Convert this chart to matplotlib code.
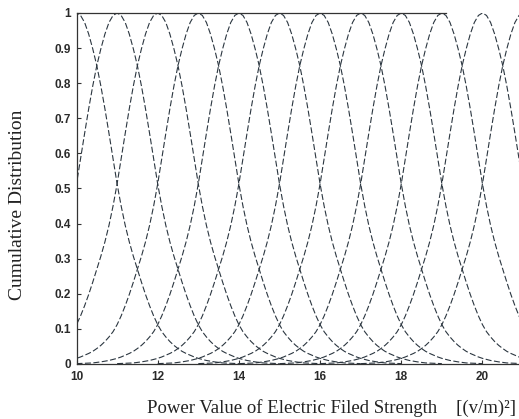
import numpy as np
import matplotlib
matplotlib.use("Agg")
import matplotlib.pyplot as plt

# Peak positions of the curves (x in (v/m)^2)
centers = [10, 11, 12, 13, 14, 15, 16, 17, 18, 19, 20, 21]

# Shape of one curve: distance from peak -> value
offsets = [0.0, 0.1, 0.2, 0.3, 0.4, 0.5, 0.6, 0.7, 0.8, 0.9,
           1.0, 1.1, 1.2, 1.3, 1.4, 1.5, 1.6, 1.7, 1.8, 1.9,
           2.0, 2.1, 2.2, 2.3, 2.4, 2.5, 2.6, 2.7, 2.8, 2.9,
           3.0, 3.2, 3.4, 3.6, 4.0]
profile = [1.000, 0.993, 0.973, 0.940, 0.898, 0.850, 0.792, 0.727, 0.657, 0.585,
           0.513, 0.450, 0.395, 0.348, 0.307, 0.270, 0.233, 0.198, 0.166, 0.137,
           0.112, 0.092, 0.077, 0.064, 0.053, 0.044, 0.036, 0.030, 0.025, 0.020,
           0.016, 0.010, 0.006, 0.003, 0.001]

xticks = [10, 12, 14, 16, 18, 20]
yticks = [0, 0.1, 0.2, 0.3, 0.4, 0.5, 0.6, 0.7, 0.8, 0.9, 1]
ytick_labels = ["0", "0.1", "0.2", "0.3", "0.4", "0.5", "0.6", "0.7", "0.8", "0.9", "1"]

fig = plt.figure(figsize=(5.19, 4.19), dpi=100)
ax = fig.add_axes([0.1474, 0.1313, 1 - 0.1474, 0.8377])

off = np.array(offsets)
prof = np.array(profile)
xs_rel = np.concatenate([-off[::-1], off[1:]])
ys = np.concatenate([prof[::-1], prof[1:]])

line_color = "#2b3640"
for c in centers:
    ax.plot(c + xs_rel, ys, color=line_color, lw=0.8,
            dashes=(5.4, 2.2), clip_on=True)

ax.set_xlim(10, 20.9)
ax.set_ylim(0, 1)

for s in ["left", "bottom", "top"]:
    ax.spines[s].set_color("#333333")
    ax.spines[s].set_linewidth(0.9)
ax.spines["right"].set_visible(False)
ax.spines["top"].set_bounds(10, 19.1)

ax.set_xticks(xticks)
ax.set_yticks(yticks)
ax.set_yticklabels(ytick_labels)
ax.tick_params(direction="in", length=3, width=0.8, colors="#333333",
               labelcolor="#2a2a2a", labelsize=8.5)
ax.tick_params(axis="x", pad=5)
ax.tick_params(axis="y", pad=4)
for lab in ax.get_xticklabels() + ax.get_yticklabels():
    lab.set_family(["Liberation Sans", "DejaVu Sans"])
    lab.set_fontweight("bold")

ax.set_xlabel("Power Value of Electric Filed Strength    [(v/m)²]",
              family=["Liberation Serif", "DejaVu Serif"], fontsize=13.5,
              color="#222222")
ax.xaxis.set_label_coords(0.5 * (145 + 517) / 519 / (1 - 0.1474) - 0.1474 / (1 - 0.1474), -0.1)
ax.set_ylabel("Cumulative Distribution",
              family=["Liberation Serif", "DejaVu Serif"], fontsize=14,
              color="#222222")
ax.yaxis.set_label_coords(-0.114, 0.453)

fig.savefig("out.png", dpi=100)
